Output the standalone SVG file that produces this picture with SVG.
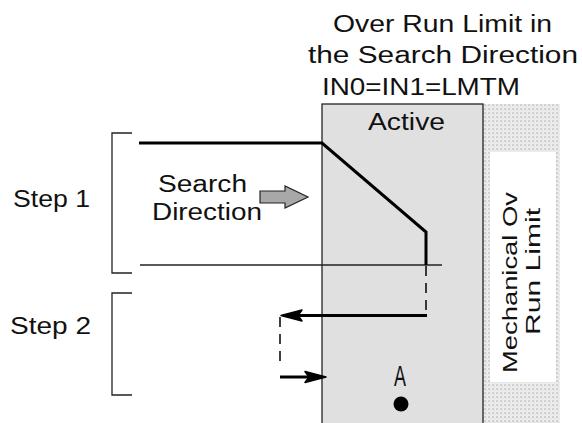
<svg xmlns="http://www.w3.org/2000/svg" width="582" height="423" viewBox="0 0 582 423">
<defs>
<pattern id="hatch" width="4" height="4" patternUnits="userSpaceOnUse">
<rect width="4" height="4" fill="#ececec"/>
<rect width="2" height="2" fill="#cfcfcf"/>
<rect x="2" y="2" width="1" height="1" fill="#d8d8d8"/>
</pattern>
</defs>
<style>
text{font-family:"Liberation Sans",Arial,sans-serif;font-size:23px;fill:#111;}
.vert{font-size:20px;}
.big{font-size:30px;}
.thin{stroke:#222;stroke-width:1.3;fill:none;}
.thick{stroke:#000;stroke-width:3;fill:none;}
.dash{stroke:#000;stroke-width:1.5;fill:none;stroke-dasharray:10,7;}
.head{fill:#000;stroke:#000;stroke-width:1.5;stroke-linejoin:round;}
</style>
<rect width="582" height="423" fill="#fff"/>

<g id="mechanical-limit">
<rect x="483" y="104" width="77" height="319" fill="url(#hatch)"/>
<rect x="490" y="152" width="66" height="230" fill="#fff"/>
<text class="vert" transform="translate(517,282.5) rotate(-90)" text-anchor="middle" textLength="181" lengthAdjust="spacingAndGlyphs">Mechanical Ov</text>
<text class="vert" transform="translate(540,271.5) rotate(-90)" text-anchor="middle" textLength="127" lengthAdjust="spacingAndGlyphs">Run Limit</text>
</g>

<g id="active-zone">
<rect x="322" y="104" width="161" height="330" fill="#e0e0e0" stroke="#222" stroke-width="1.3"/>
<text x="368" y="130" textLength="77" lengthAdjust="spacingAndGlyphs">Active</text>
</g>

<g id="title">
<text x="333" y="32" textLength="219" lengthAdjust="spacingAndGlyphs">Over Run Limit in</text>
<text x="308" y="63" textLength="270" lengthAdjust="spacingAndGlyphs">the Search Direction</text>
<text x="322" y="95" textLength="198" lengthAdjust="spacingAndGlyphs">IN0=IN1=LMTM</text>
</g>

<g id="step1">
<path class="thin" d="M132,133 H112 V273 H132"/>
<text x="13" y="207" textLength="77" lengthAdjust="spacingAndGlyphs">Step 1</text>
</g>

<g id="step2">
<path class="thin" d="M132,293 H112 V395 H132"/>
<text x="10" y="334" textLength="81" lengthAdjust="spacingAndGlyphs">Step 2</text>
</g>

<g id="search-direction">
<text x="158" y="192" textLength="89" lengthAdjust="spacingAndGlyphs">Search</text>
<text x="152" y="220" textLength="110" lengthAdjust="spacingAndGlyphs">Direction</text>
<path d="M260,191 H285 V186 L308,197 L285,208 V203 H260 z" fill="#a8a8a8" stroke="#222" stroke-width="1.2"/>
</g>

<g id="point-a">
<text class="big" x="400" y="386" text-anchor="middle" textLength="12" lengthAdjust="spacingAndGlyphs">A</text>
<circle cx="401" cy="404" r="7.5" fill="#000"/>
</g>

<g id="connectors">
<line class="thin" x1="140" y1="265" x2="442" y2="265"/>
<path class="thick" d="M139,143 H322 L426,232 V265"/>
<line class="dash" x1="426" y1="266" x2="426" y2="315"/>
<line class="thick" x1="427" y1="315.5" x2="296" y2="315.5"/>
<path class="head" d="M281,315.5 L302,310 L298,315.5 L302,321 z"/>
<line class="dash" x1="280" y1="317" x2="280" y2="368"/>
<line class="thick" x1="280" y1="377" x2="310" y2="377"/>
<path class="head" d="M326,377 L305,371.5 L309,377 L305,382.5 z"/>
</g>
</svg>
